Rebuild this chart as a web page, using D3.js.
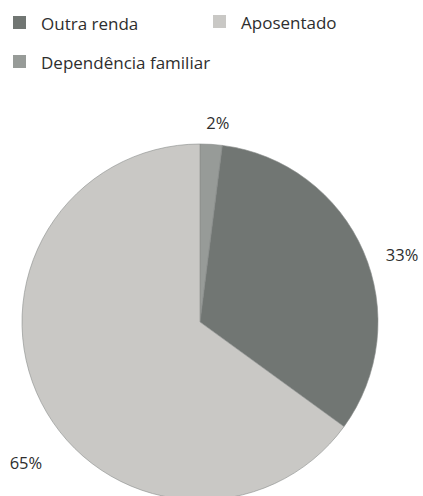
<!DOCTYPE html>
<html>
<head>
<meta charset="utf-8">
<script src="https://cdn.jsdelivr.net/npm/d3@7"></script>
<style>
  body { margin: 0; background: #fff; }
  text { font-family: "Open Sans", sans-serif; fill: #2e2e2e; }
</style>
</head>
<body>
<figure id="pie" style="margin:0"></figure>
<script>
// data, clockwise from 12 o'clock
const categories = ["Dependência familiar", "Outra renda", "Aposentado"];
const values = [2, 33, 65];
const labels = ["2%", "33%", "65%"];
const legendOrder = ["Outra renda", "Aposentado", "Dependência familiar"];

const width = 423, height = 496;
const cx = 200, cy = 322, radius = 178;

const color = d3.scaleOrdinal()
  .domain(categories)
  .range(["#979b98", "#717673", "#c9c8c5"]);

const svg = d3.select("figure#pie")
  .append("svg")
  .attr("width", width)
  .attr("height", height);

// legend
const legendPos = [[13, 30], [213, 29], [13, 69]];
const legend = svg.append("g");
legendOrder.forEach((name, i) => {
  const [x, y] = legendPos[i];
  legend.append("rect")
    .attr("x", x).attr("y", y - 14)
    .attr("width", 13).attr("height", 13)
    .attr("fill", color(name));
  legend.append("text")
    .attr("x", x + 28).attr("y", y)
    .style("font-size", "17px")
    .text(name);
});

// pie
const pie = d3.pie().sort(null).value(d => d);
const arc = d3.arc().innerRadius(0).outerRadius(radius);
const arcs = pie(values);

const g = svg.append("g")
  .attr("transform", "translate(" + cx + "," + cy + ")");

g.selectAll("path")
  .data(arcs)
  .enter()
  .append("path")
  .attr("d", arc)
  .attr("fill", (d, i) => color(categories[i]))
  .attr("stroke", "#8a8d8b")
  .attr("stroke-width", 0.6);

// percentage labels, placed outside the pie (angle offset in degrees, radius)
const labelPlace = [[1.5, 200], [5, 213], [-12, 224]];
g.selectAll("text.pct")
  .data(arcs)
  .enter()
  .append("text")
  .attr("class", "pct")
  .attr("text-anchor", "middle")
  .attr("dy", "0.35em")
  .style("font-size", "16.5px")
  .attr("x", (d, i) => {
    const a = (d.startAngle + d.endAngle) / 2 + labelPlace[i][0] * Math.PI / 180;
    return Math.sin(a) * labelPlace[i][1];
  })
  .attr("y", (d, i) => {
    const a = (d.startAngle + d.endAngle) / 2 + labelPlace[i][0] * Math.PI / 180;
    return -Math.cos(a) * labelPlace[i][1];
  })
  .text((d, i) => labels[i]);
</script>
</body>
</html>
